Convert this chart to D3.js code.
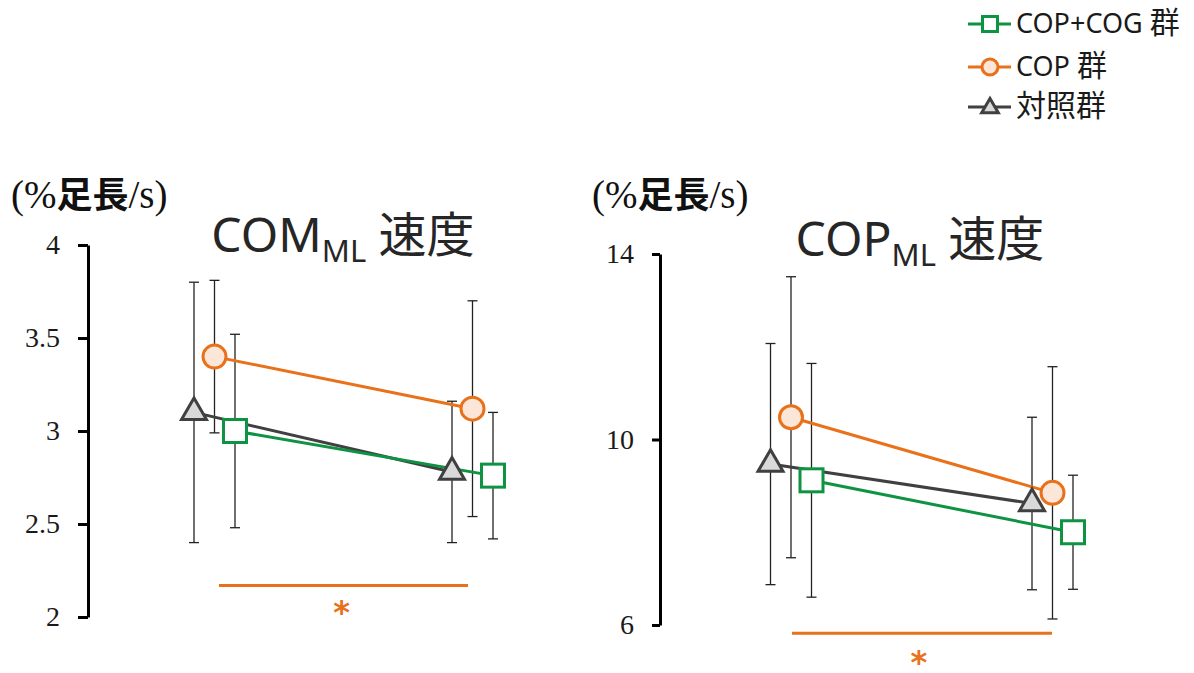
<!DOCTYPE html>
<html>
<head>
<meta charset="utf-8">
<script src="https://cdn.jsdelivr.net/npm/d3@7"></script>
<style>
  html, body { margin: 0; padding: 0; background: #fff; }
  svg { display: block; }
  .serif { font-family: "Liberation Serif", "DejaVu Serif", "Times New Roman", serif; }
  .sans { font-family: "Noto Sans", "Noto Sans CJK JP", sans-serif; }
  .cjk { font-family: "Noto Sans CJK JP", sans-serif; }
</style>
</head>
<body>
<svg id="chart" width="1194" height="673"></svg>
<script>
// Measurement occasions (before / after training)
const times = ["pre", "post"];

// Groups, in legend order
const groups = ["COP+COG群", "COP群", "対照群"];

// COM_ML velocity (%足長/s): mean and SD for each group at each occasion
const comMean = {
  "COP+COG群": [3.00, 2.76],
  "COP群":     [3.40, 3.12],
  "対照群":    [3.10, 2.78]
};
const comSd = {
  "COP+COG群": [0.52, 0.34],
  "COP群":     [0.41, 0.58],
  "対照群":    [0.70, 0.38]
};

// COP_ML velocity (%足長/s)
const copMean = {
  "COP+COG群": [9.12, 8.00],
  "COP群":     [10.48, 8.85],
  "対照群":    [9.47, 8.62]
};
const copSd = {
  "COP+COG群": [2.52, 1.23],
  "COP群":     [3.03, 2.72],
  "対照群":    [2.60, 1.86]
};

// Axis ticks
const comTicks = [2, 2.5, 3, 3.5, 4];
const copTicks = [6, 10, 14];

// Significance bar level (in data units of each panel)
const comSigLevel = 2.17;
const copSigLevel = 5.82;

const unitLabel = ["(%", "足長", "/s)"];

// ---- styles ----
const ORANGE = "#E8711A";
const GREEN = "#0E9343";
const GRAY = "#404040";
const style = {
  "COP+COG群": { color: GREEN, fill: "#ffffff", shape: "square" },
  "COP群":     { color: ORANGE, fill: "#FCE6D8", shape: "circle" },
  "対照群":    { color: GRAY, fill: "#D9D9D9", shape: "triangle" }
};

const svg = d3.select("#chart");

// horizontal offset of each group within an occasion
const groupOffset = d3.scalePoint()
  .domain(["対照群", "COP群", "COP+COG群"])
  .range([-20.5, 20.5]);

function drawMarker(g, shape, x, y, s, sty) {
  if (shape === "circle") {
    g.append("circle").attr("cx", x).attr("cy", y).attr("r", s.r)
      .attr("fill", sty.fill).attr("stroke", sty.color).attr("stroke-width", s.sw);
  } else if (shape === "square") {
    g.append("rect").attr("x", x - s.sq / 2).attr("y", y - s.sq / 2)
      .attr("width", s.sq).attr("height", s.sq)
      .attr("fill", sty.fill).attr("stroke", sty.color).attr("stroke-width", s.sw);
  } else {
    g.append("path")
      .attr("d", d3.symbol(d3.symbolTriangle, s.tri)())
      .attr("transform", `translate(${x},${y})`)
      .attr("fill", sty.fill).attr("stroke", sty.color)
      .attr("stroke-width", s.sw).attr("stroke-linejoin", "miter");
  }
}

function panel(cfg) {
  const g = svg.append("g");
  const x = d3.scalePoint().domain(times).range(cfg.xRange);
  const y = d3.scaleLinear().domain(cfg.domain).range(cfg.yRange);

  // y axis
  const ax = g.append("g")
    .attr("transform", `translate(${cfg.axisX},0)`)
    .call(d3.axisLeft(y).tickValues(cfg.ticks).tickSize(cfg.tickLen)
      .tickSizeOuter(0).tickPadding(18).tickFormat(d3.format("")));
  ax.attr("font-family", null).attr("font-size", null);
  ax.select(".domain").attr("stroke", "#000").attr("stroke-width", 3);
  ax.selectAll(".tick line").attr("stroke", "#000").attr("stroke-width", 3);
  ax.selectAll(".tick text")
    .attr("class", "serif")
    .attr("font-size", 28).attr("fill", "#1a1a1a");

  // unit label
  const u = g.append("text")
    .attr("class", "serif")
    .attr("x", cfg.unitX).attr("y", 208)
    .attr("font-size", 39).attr("fill", "#111");
  u.append("tspan").text(unitLabel[0]);
  u.append("tspan").attr("class", "cjk")
    .attr("font-weight", 700).attr("font-size", 36).text(unitLabel[1]);
  u.append("tspan").text(unitLabel[2]);

  // title with subscript
  const t = g.append("text")
    .attr("class", "sans")
    .attr("x", cfg.titleX).attr("y", cfg.titleY)
    .attr("text-anchor", "middle")
    .attr("font-size", 48).attr("fill", "#262626");
  t.append("tspan").text(cfg.title[0]);
  t.append("tspan").attr("font-size", 31).attr("dy", 10).text(cfg.title[1]);
  t.append("tspan").attr("dy", -10).text(" " + cfg.title[2]);

  const px = (grp, i) => x(times[i]) + groupOffset(grp);

  // error bars
  const eb = g.append("g").attr("stroke", "#222").attr("stroke-width", 1.3);
  groups.forEach(grp => {
    times.forEach((tm, i) => {
      const cx = px(grp, i);
      const hi = y(cfg.mean[grp][i] + cfg.sd[grp][i]);
      const lo = y(cfg.mean[grp][i] - cfg.sd[grp][i]);
      eb.append("line").attr("x1", cx).attr("x2", cx).attr("y1", hi).attr("y2", lo);
      eb.append("line").attr("x1", cx - 5).attr("x2", cx + 5).attr("y1", hi).attr("y2", hi);
      eb.append("line").attr("x1", cx - 5).attr("x2", cx + 5).attr("y1", lo).attr("y2", lo);
    });
  });

  // connecting lines
  const line = d3.line();
  ["対照群", "COP+COG群", "COP群"].forEach(grp => {
    g.append("path")
      .attr("d", line(times.map((tm, i) => [px(grp, i), y(cfg.mean[grp][i])])))
      .attr("fill", "none").attr("stroke", style[grp].color).attr("stroke-width", 3);
  });

  // markers
  const mk = { r: 11.5, sq: 23, tri: 270, sw: 3 };
  ["対照群", "COP群", "COP+COG群"].forEach(grp => {
    times.forEach((tm, i) => {
      drawMarker(g, style[grp].shape, px(grp, i), y(cfg.mean[grp][i]), mk, style[grp]);
    });
  });

  // significance bar and asterisk
  const sy = y(cfg.sigLevel);
  g.append("line")
    .attr("x1", x("pre") + cfg.sigInset[0]).attr("x2", x("post") - cfg.sigInset[1])
    .attr("y1", sy).attr("y2", sy)
    .attr("stroke", ORANGE).attr("stroke-width", 3);
  g.append("text")
    .attr("x", (x("pre") + x("post")) / 2 + cfg.starDx).attr("y", sy + cfg.starDy)
    .attr("text-anchor", "middle")
    .attr("font-family", "DejaVu Sans, sans-serif").attr("font-weight", "bold")
    .attr("font-size", 32).attr("fill", ORANGE).text("*");
}

panel({
  title: ["COM", "ML", "速度"], titleX: 343, titleY: 252,
  mean: comMean, sd: comSd, domain: [2, 4], ticks: comTicks,
  xRange: [214.5, 472.5], yRange: [617, 245], axisX: 88, tickLen: 10,
  unitX: 11, sigLevel: comSigLevel, sigInset: [4.5, 4.5], starDx: -2, starDy: 38
});

panel({
  title: ["COP", "ML", "速度"], titleX: 920, titleY: 256,
  mean: copMean, sd: copSd, domain: [6, 14], ticks: copTicks,
  xRange: [791, 1052.5], yRange: [625, 254], axisX: 660, tickLen: 8,
  unitX: 592, sigLevel: copSigLevel, sigInset: [1, 0.5], starDx: -3, starDy: 40
});

// legend: Latin runs and CJK runs are set in slightly different sizes
const legend = svg.append("g");
const rowY = [24, 67, 107];
const lmk = { r: 8, sq: 15, tri: 120, sw: 3 };
groups.forEach((grp, i) => {
  const yy = rowY[i];
  legend.append("line").attr("x1", 968).attr("x2", 1011).attr("y1", yy).attr("y2", yy)
    .attr("stroke", style[grp].color).attr("stroke-width", 3);
  drawMarker(legend, style[grp].shape, 990, yy + (style[grp].shape === "triangle" ? 1 : 0), lmk, style[grp]);
  const txt = legend.append("text").attr("class", "sans").attr("x", 1016).attr("y", yy + 9)
    .attr("fill", "#1a1a1a");
  const runs = grp.match(/[\u3000-\u9fff]+|[^\u3000-\u9fff]+/g);
  runs.forEach((r, k) => {
    const isCjk = /[\u3000-\u9fff]/.test(r);
    txt.append("tspan")
      .attr("font-size", isCjk ? 30 : 27)
      .attr("dx", isCjk && k > 0 ? 7 : 0)
      .text(r);
  });
});
</script>
</body>
</html>
